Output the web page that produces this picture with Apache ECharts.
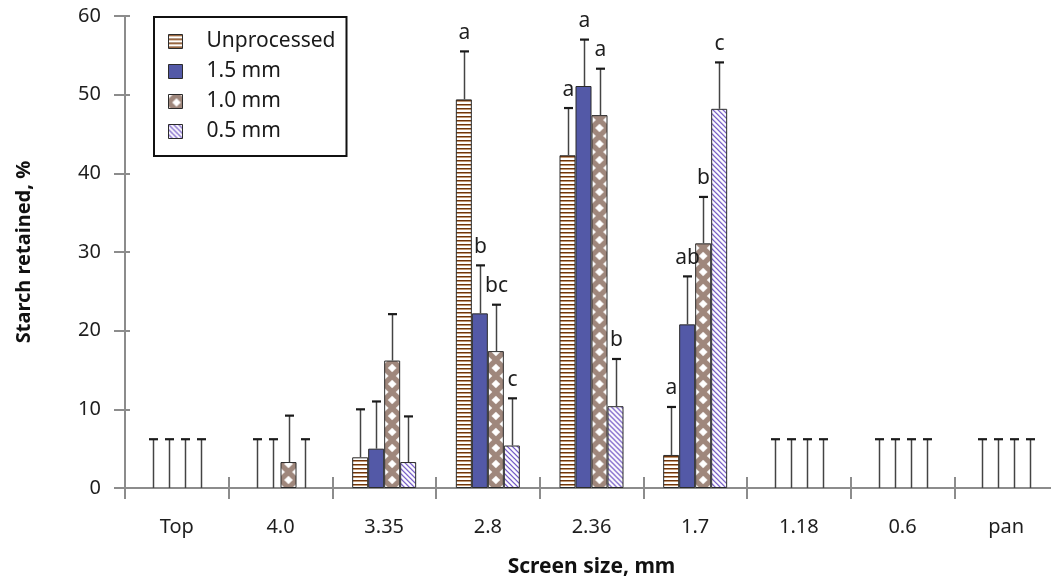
<!DOCTYPE html>
<html><head><meta charset="utf-8">
<script src="https://cdn.jsdelivr.net/npm/echarts@6/dist/echarts.min.js"></script>
<style>html,body{margin:0;padding:0;background:#fff}#c{width:1051px;height:585px}</style>
</head><body><div id="c"></div>
<script>
// ---- data ----
const categories = ['Top', '4.0', '3.35', '2.8', '2.36', '1.7', '1.18', '0.6', 'pan'];
const seriesNames = ['Unprocessed', '1.5 mm', '1.0 mm', '0.5 mm'];
const unprocessed = [0, 0, 3.9, 49.4, 42.3, 4.2, 0, 0, 0];
const mm15        = [0, 0, 5.0, 22.2, 51.1, 20.8, 0, 0, 0];
const mm10        = [0, 3.3, 16.2, 17.4, 47.4, 31.1, 0, 0, 0];
const mm05        = [0, 0, 3.3, 5.4, 10.4, 48.2, 0, 0, 0];
const errUnprocessed = [6.2, 6.2, 6.1, 6.1, 6.0, 6.1, 6.2, 6.2, 6.2];
const err15          = [6.2, 6.2, 6.0, 6.1, 5.9, 6.1, 6.2, 6.2, 6.2];
const err10          = [6.2, 5.9, 5.9, 5.9, 5.9, 5.9, 6.2, 6.2, 6.2];
const err05          = [6.2, 6.2, 5.8, 6.0, 6.0, 5.9, 6.2, 6.2, 6.2];
const lettersUnprocessed = ['', '', '', 'a', 'a', 'a', '', '', ''];
const letters15          = ['', '', '', 'b', 'a', 'ab', '', '', ''];
const letters10          = ['', '', '', 'bc', 'a', 'b', '', '', ''];
const letters05          = ['', '', '', 'c', 'b', 'c', '', '', ''];
const yTicks = [0, 10, 20, 30, 40, 50, 60];

const values = [unprocessed, mm15, mm10, mm05];
const errors = [errUnprocessed, err15, err10, err05];
const letters = [lettersUnprocessed, letters15, letters10, letters05];

// ---- styles ----
const FONT = '"Noto Sans", "Open Sans", sans-serif';
const BAR_W = 16;
const AXIS_COLOR = '#8c8c8c';

function makeCanvas(w, h) { const c = document.createElement('canvas'); c.width = w; c.height = h; return c; }
const stripeCanvas = (function () {
  const c = makeCanvas(4, 4), g = c.getContext('2d');
  g.fillStyle = '#ffffff'; g.fillRect(0, 0, 4, 4);
  g.fillStyle = '#6e350c'; g.fillRect(0, 0, 4, 1);
  g.fillStyle = '#c49a76'; g.fillRect(0, 1, 4, 1);
  return c;
})();
const diamondCanvas = (function () {
  const s = 16, h = 4.3;
  const c = makeCanvas(s, s), g = c.getContext('2d');
  g.fillStyle = '#9f877c'; g.fillRect(0, 0, s, s);
  g.fillStyle = '#ffffff';
  [[s / 2, s / 2], [0, 0], [s, 0], [0, s], [s, s]].forEach(([cx, cy]) => {
    g.beginPath();
    g.moveTo(cx, cy - h); g.lineTo(cx + h, cy); g.lineTo(cx, cy + h); g.lineTo(cx - h, cy);
    g.closePath(); g.fill();
  });
  return c;
})();
const diagCanvas = (function () {
  const p = 5;
  const c = makeCanvas(p, p), g = c.getContext('2d');
  g.fillStyle = '#ffffff'; g.fillRect(0, 0, p, p);
  g.strokeStyle = '#6548c0'; g.lineWidth = 1.2;
  [-p, 0, p].forEach(o => { g.beginPath(); g.moveTo(o - 1, -1); g.lineTo(o + p + 1, p + 1); g.stroke(); });
  return c;
})();
const fillCanvases = [stripeCanvas, null, diamondCanvas, diagCanvas];
const solidColors = [null, '#5359a7', null, null];

function fillFor(s, xOff, yOff) {
  if (!fillCanvases[s]) return solidColors[s];
  return { image: fillCanvases[s], repeat: 'repeat', x: xOff || 0, y: yOff || 0 };
}

function buildBarSeries(pxOf) {
  return seriesNames.map((name, s) => ({
    name: name,
    type: 'bar',
    xAxisIndex: 0, yAxisIndex: 0,
    barWidth: BAR_W,
    barGap: '0%',
    itemStyle: { color: fillFor(s, 0, 0), borderColor: '#2b2b2b', borderWidth: 1 },
    data: values[s].map((v, i) => {
      if (v === 0) return '-';
      if (!pxOf) return v;
      const left = pxOf(i) + (s - 2) * BAR_W;
      return { value: v, itemStyle: { color: fillFor(s, left, pxOf.bottom) } };
    }),
    z: 3
  }));
}

const errData = [];
values.forEach((arr, s) => arr.forEach((v, i) => errData.push([i, v, errors[s][i], s])));

const errSeries = {
  type: 'custom',
  xAxisIndex: 0, yAxisIndex: 0,
  z: 4,
  silent: true,
  data: errData,
  renderItem: function (params, api) {
    const ci = api.value(0), v = api.value(1), e = api.value(2), s = api.value(3);
    const x = Math.round(api.coord([ci, 0])[0] + (s - 1.5) * BAR_W) + 0.5;
    const y0 = api.coord([ci, v])[1];
    const y1 = api.coord([ci, v + e])[1];
    const txt = letters[s][ci];
    const children = [
      { type: 'line', shape: { x1: x, y1: y0, x2: x, y2: y1 }, style: { stroke: '#444', lineWidth: 1.5 } },
      { type: 'line', shape: { x1: x - 4.5, y1: y1, x2: x + 4.5, y2: y1 }, style: { stroke: '#1a1a1a', lineWidth: 2.2 } }
    ];
    if (txt) {
      children.push({ type: 'text', style: { text: txt, x: x, y: y1 - 8, align: 'center', verticalAlign: 'bottom', font: '21px ' + FONT, fill: '#1e1e1e' } });
    }
    return { type: 'group', children: children };
  }
};

const chart = echarts.init(document.getElementById('c'), null, { renderer: 'canvas' });
chart.setOption({
  animation: false,
  backgroundColor: '#ffffff',
  textStyle: { fontFamily: FONT },
  grid: { left: 125, width: 933, top: 16, height: 472, containLabel: false, outerBoundsMode: 'none' },
  legend: {
    data: seriesNames,
    orient: 'vertical',
    left: 154, top: 17,
    padding: [14, 11, 14, 14],
    borderColor: '#111', borderWidth: 2,
    itemWidth: 14, itemHeight: 14, itemGap: 9,
    icon: 'rect',
    itemStyle: { borderColor: '#2b2b2b', borderWidth: 1 },
    textStyle: { fontSize: 21, fontFamily: FONT, color: '#1a1a1a', lineHeight: 20, padding: [0, 0, 0, 19] }
  },
  xAxis: [{
    type: 'category', data: categories, position: 'bottom',
    axisLine: { lineStyle: { color: AXIS_COLOR, width: 2 } },
    axisTick: { show: true, length: 11, lineStyle: { color: AXIS_COLOR, width: 2 } },
    axisLabel: { margin: 29, fontSize: 20, color: '#1e1e1e', fontFamily: FONT },
    splitLine: { show: false },
    name: 'Screen size, mm', nameLocation: 'middle', nameGap: 69,
    nameTextStyle: { fontSize: 21, fontWeight: 'bold', color: '#111', fontFamily: FONT }
  }, {
    type: 'category', data: categories, position: 'bottom',
    axisLine: { show: false },
    axisTick: { show: true, inside: true, length: 11, lineStyle: { color: AXIS_COLOR, width: 2 } },
    axisLabel: { show: false }, splitLine: { show: false }
  }],
  yAxis: [{
    type: 'value', min: yTicks[0], max: yTicks[yTicks.length - 1], interval: yTicks[1] - yTicks[0], position: 'left',
    axisLine: { show: true, lineStyle: { color: AXIS_COLOR, width: 2 } },
    axisTick: { show: true, length: 11, lineStyle: { color: AXIS_COLOR, width: 2 } },
    axisLabel: { margin: 24, fontSize: 20, color: '#1e1e1e', fontFamily: FONT },
    splitLine: { show: false },
    name: 'Starch retained, %', nameLocation: 'middle', nameGap: 91,
    nameTextStyle: { fontSize: 20, fontWeight: 'bold', color: '#111', fontFamily: FONT }
  }, {
    type: 'value', min: yTicks[0], max: yTicks[yTicks.length - 1], interval: yTicks[1] - yTicks[0], position: 'left',
    axisLine: { show: false },
    axisTick: { show: true, inside: true, length: 5, lineStyle: { color: AXIS_COLOR, width: 2 } },
    axisLabel: { show: false }, splitLine: { show: false }
  }],
  series: buildBarSeries(null).concat([errSeries])
});

// align each bar's fill pattern with the bar itself, using the axis's own pixel mapping
const pxOf = function (i) { return chart.convertToPixel({ xAxisIndex: 0 }, i); };
pxOf.bottom = chart.convertToPixel({ yAxisIndex: 0 }, 0);
chart.setOption({ series: buildBarSeries(pxOf).concat([errSeries]) });
</script>
</body></html>
